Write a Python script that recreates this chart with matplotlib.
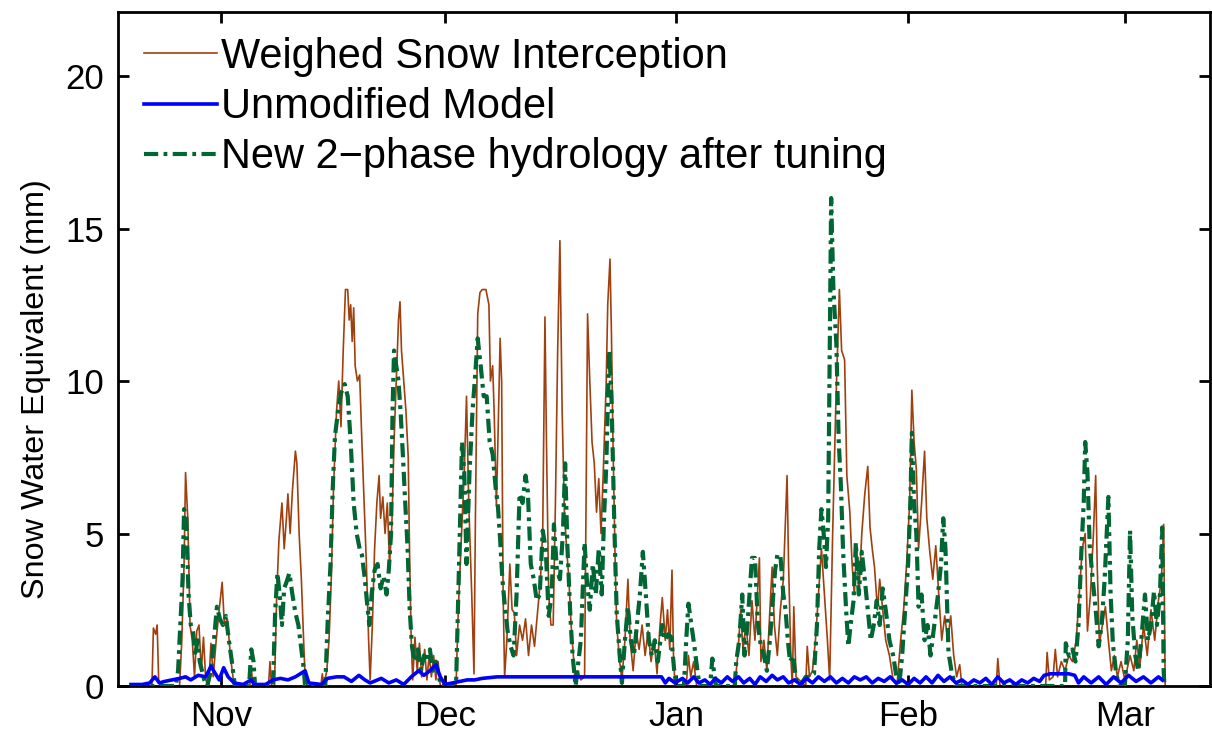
import matplotlib
matplotlib.use("Agg")
import matplotlib.pyplot as plt

# ---- data (x = days since 1 Oct) ----
month_ticks = [31, 61, 92, 123, 152]
month_labels = ["Nov", "Dec", "Jan", "Feb", "Mar"]
y_ticks = [0, 5, 10, 15, 20]

weighed_days = [21.8, 22.0, 22.3, 22.5, 22.7, 23.0,
    25.5, 25.8, 26.1, 26.3, 26.6, 26.9, 27.2, 27.5, 27.8, 28.1, 28.4, 28.7, 29.0, 29.4, 29.7, 30.0, 30.4, 30.8, 31.2, 31.5, 31.9, 32.3, 32.7, 33.0,
    34.9, 35.1, 35.3,
    37.4, 37.6, 37.8, 38.2, 38.5, 38.8, 39.2, 39.5, 39.8, 40.0, 40.3, 40.6, 41.0, 41.2, 41.5, 41.8, 42.1, 42.3, 42.6,
    44.4, 44.6, 44.8, 45.2, 45.5, 45.8, 46.1, 46.5, 46.8, 47.1, 47.4, 47.7, 48.0, 48.2, 48.4, 48.6, 48.8, 49.0, 49.3, 49.6, 49.9, 50.2, 50.5, 50.8, 51.0,
    51.3, 51.6, 51.9, 52.2, 52.4, 52.7, 53.0, 53.3, 53.6, 53.9, 54.2, 54.5, 54.8, 55.0, 55.2, 55.5, 55.8, 56.1, 56.3, 56.5, 56.7,
    57.0, 57.3, 57.6, 57.9, 58.3, 58.6, 58.9, 59.2, 59.5, 59.8, 60.1, 60.4,
    62.5, 62.8, 63.2, 63.6, 63.9, 64.2, 64.6, 64.9, 65.1, 65.4, 65.7, 66.0, 66.5, 66.9, 67.1, 67.4, 67.6, 67.9, 68.1, 68.4, 68.6, 68.8, 69.0,
    69.3, 69.7, 70.0, 70.3, 70.6, 71.0, 71.4, 71.8, 72.2, 72.6, 73.0, 73.4, 73.8, 74.1, 74.4, 74.6, 74.9, 75.2, 75.5, 75.8, 76.1, 76.4, 76.7,
    77.0, 77.3, 77.6, 77.9, 78.2, 78.4, 78.8, 79.2, 79.7, 79.9, 80.1, 80.4, 80.7, 81.0, 81.3, 81.6, 81.9, 82.2, 82.4, 82.6, 82.8, 83.1, 83.3,
    83.5, 83.8, 84.0, 84.4, 84.7, 85.1, 85.5, 85.8, 86.2, 86.6, 87.0, 87.4, 87.8, 88.2, 88.6, 89.0, 89.4, 89.8, 90.1, 90.5, 90.8, 91.1, 91.4,
    91.6, 91.8,
    93.3, 93.6, 93.9, 94.3, 94.7,
    99.8, 100.2, 100.6, 100.9, 101.3, 101.7, 102.1, 102.5, 103.1, 103.3, 103.7, 104.1, 104.5, 104.8, 105.1, 105.5, 105.9, 106.3, 106.6,
    106.8, 107.0, 107.3, 107.5, 107.7, 108.0,
    109.3, 109.5, 109.8, 110.2, 110.6, 111.0, 111.4, 111.8, 112.2, 112.5, 112.9, 113.3, 113.8, 114.1, 114.5, 114.8, 115.2, 115.5, 115.8,
    116.1, 116.4, 116.8, 117.2, 117.6, 117.9, 118.2, 118.5, 118.9, 119.2, 119.6, 120.0, 120.5, 121.0, 121.5, 122.0, 122.4, 122.8, 123.2,
    123.5, 123.8, 124.1, 124.4, 124.8, 125.2, 125.5, 125.9, 126.3, 126.7, 127.1, 127.5, 127.9, 128.3, 128.7, 129.1, 129.5, 129.9, 130.2,
    134.8, 135.0, 135.3,
    141.4, 141.6, 141.9, 142.4, 142.7, 143.0, 143.5, 144.0, 144.5, 145.0, 145.5, 145.9, 146.3, 146.7, 147.0, 147.4, 147.8, 148.1, 148.3,
    148.6, 149.0, 149.4, 149.8, 150.2, 150.6, 151.0, 151.5, 152.0, 152.7, 153.2, 153.6, 154.0, 154.5, 155.0, 155.5, 156.0, 156.5, 156.9,
    157.2, 157.4]
weighed_swe = [0, 1.9, 1.7, 2.0, 0.2, 0,
    0, 1.5, 4.0, 7.0, 5.5, 2.0, 1.5, 0.3, 1.8, 2.0, 0.5, 1.6, 0.2, 0, 1.4, 0.3, 1.5, 2.5, 3.4, 2.0, 2.2, 1.0, 0.2, 0,
    0, 0.6, 0,
    0, 0.8, 0, 0, 3.0, 4.8, 6.0, 4.5, 5.5, 6.3, 5.0, 6.4, 7.7, 7.3, 5.0, 3.5, 1.5, 0.3, 0,
    0, 0.4, 0, 0.5, 1.5, 3.5, 6.5, 9.0, 10.0, 8.5, 11.0, 13.0, 13.0, 12.0, 12.5, 11.3, 12.4, 10.5, 10.0, 10.2, 8.0, 6.0, 4.0, 1.5, 0.2,
    2.0, 4.5, 6.0, 6.9, 5.5, 6.2, 5.0, 6.0, 4.0, 5.2, 8.0, 10.0, 12.0, 12.6, 11.0, 10.0, 9.0, 7.5, 4.0, 1.5, 0.2,
    1.6, 0.5, 1.4, 0.3, 1.2, 0.2, 1.0, 0.3, 1.0, 0.2, 0.8, 0,
    0, 2.5, 4.8, 7.0, 9.5, 6.0, 3.0, 0.4, 5.7, 12.2, 12.9, 13.0, 13.0, 12.5, 10.0, 10.5, 9.0, 5.9, 8.0, 11.4, 10.0, 3.0, 0.3,
    1.5, 4.0, 2.5, 2.4, 1.0, 2.0, 1.5, 2.2, 1.0, 2.0, 1.3, 2.4, 3.5, 5.1, 12.1, 8.0, 3.0, 2.0, 2.0, 6.0, 11.0, 14.6, 9.0,
    5.7, 4.5, 3.5, 2.0, 1.0, 0.2, 0.5, 0.2, 0.3, 6.0, 12.2, 10.0, 8.0, 7.3, 5.7, 6.8, 5.0, 7.0, 8.5, 10.0, 12.5, 14.0, 11.5,
    8.0, 4.0, 2.0, 0.8, 0.2, 1.5, 3.5, 1.5, 0.5, 1.8, 1.2, 2.0, 1.0, 1.8, 0.8, 1.5, 0.4, 2.0, 2.9, 1.5, 2.5, 1.2, 3.8,
    1.0, 0,
    0, 1.0, 0.3, 0.8, 0,
    0, 1.0, 2.5, 1.2, 2.0, 1.0, 2.8, 1.5, 4.2, 0.8, 1.5, 0.5, 2.5, 3.9, 2.0, 1.0, 2.5, 3.5, 5.5,
    6.9, 4.0, 1.0, 0, 2.6, 0.3,
    0, 1.3, 0.3, 0.5, 1.5, 3.0, 4.5, 3.0, 1.5, 0.2, 5.0, 9.0, 13.0, 11.0, 10.7, 6.9, 5.7, 4.0, 3.0,
    4.6, 3.0, 5.0, 6.3, 7.2, 5.2, 4.5, 3.9, 2.5, 3.5, 2.5, 1.5, 1.0, 0.2, 0, 1.5, 2.5, 4.0, 6.0,
    9.7, 8.0, 7.1, 4.5, 6.0, 7.7, 5.5, 4.4, 3.5, 4.6, 3.0, 1.5, 2.3, 1.5, 2.3, 1.0, 0.3, 0.7, 0,
    0, 0.9, 0,
    0, 1.1, 0.2, 0.3, 1.2, 0.3, 0.8, 0.5, 1.0, 0.8, 1.5, 3.0, 4.5, 5.0, 1.8, 3.0, 5.0, 6.9, 4.0,
    1.4, 2.0, 2.6, 1.5, 0.5, 1.0, 0.3, 0.8, 0.2, 1.0, 0.5, 1.5, 0.6, 2.0, 1.0, 2.5, 1.5, 2.8, 3.5,
    5.3, 0]

unmod_days = [19.0, 20.5, 21.5, 22.2, 22.8, 23.5, 24.5, 25.5, 26.3, 27.0, 28.0, 29.0, 29.7, 30.3, 30.8, 31.4, 32.0, 32.8,
    34.0, 35.1, 35.5, 37.0, 38.0, 39.0, 40.0, 41.0, 42.3, 42.8, 44.5, 45.3, 46.5, 47.5, 48.5, 49.5, 50.3, 51.0,
    52.5, 53.5, 54.5, 55.5, 56.5, 57.5, 58.2, 59.0, 59.8, 60.4, 61.0, 62.0, 63.0, 64.0, 65.0, 66.0, 68.0, 70.0,
    72.0, 75.0, 78.0, 81.0, 84.0, 86.0, 88.0, 90.0, 90.5, 91.0, 91.8,
    92.8, 93.5, 94.3, 95.0, 95.8, 96.5, 97.2, 98.0, 98.8, 99.5, 100.3, 101.0, 101.8, 102.5, 103.2, 104.0, 104.8,
    105.5, 106.3, 107.0, 107.8, 108.6, 109.4, 110.2, 111.0, 111.8, 112.6, 113.4, 114.2, 115.0, 115.8, 116.6,
    117.4, 118.2, 119.0, 119.8, 120.6, 121.4, 122.2, 123.0, 123.8, 124.6, 125.4, 126.2, 127.0, 127.8, 128.6,
    129.4, 130.2, 131.0, 131.8, 132.6, 133.4, 134.2, 135.0, 135.8, 136.6, 137.4, 138.2, 139.0, 139.8, 140.6,
    141.2, 142.0, 143.5, 144.5, 145.3, 145.8, 146.5, 147.5, 148.5, 149.5, 150.5, 151.5, 152.5, 153.5, 154.5,
    155.5, 156.5, 157.0]
unmod_swe = [0.05, 0.05, 0.1, 0.3, 0.1, 0.15, 0.2, 0.25, 0.3, 0.2, 0.35, 0.3, 0.65, 0.4, 0.2, 0.6, 0.3, 0.1,
    0.05, 0.2, 0.05, 0.05, 0.2, 0.25, 0.2, 0.3, 0.5, 0.1, 0.05, 0.25, 0.3, 0.3, 0.15, 0.35, 0.2, 0.1,
    0.25, 0.1, 0.2, 0.05, 0.3, 0.5, 0.35, 0.5, 0.7, 0.3, 0.05, 0.1, 0.15, 0.2, 0.2, 0.25, 0.3, 0.3,
    0.3, 0.3, 0.3, 0.3, 0.3, 0.3, 0.3, 0.3, 0.1, 0.25, 0.1,
    0.25, 0.1, 0.3, 0.1, 0.2, 0.05, 0.25, 0.1, 0.3, 0.15, 0.3, 0.1, 0.25, 0.05, 0.3, 0.15, 0.35,
    0.2, 0.3, 0.1, 0.2, 0.05, 0.25, 0.1, 0.3, 0.15, 0.3, 0.1, 0.25, 0.1, 0.3, 0.2,
    0.3, 0.1, 0.25, 0.15, 0.3, 0.1, 0.2, 0.05, 0.25, 0.1, 0.3, 0.1, 0.35, 0.15, 0.3,
    0.1, 0.2, 0.05, 0.2, 0.1, 0.25, 0.05, 0.3, 0.1, 0.2, 0.05, 0.2, 0.1, 0.25, 0.15,
    0.35, 0.4, 0.4, 0.4, 0.35, 0.1, 0.3, 0.1, 0.3, 0.05, 0.3, 0.1, 0.35, 0.15, 0.3,
    0.1, 0.3, 0.2]

new_days = [19.0, 25.0, 25.3, 25.6, 25.9, 26.1, 26.4, 26.7, 27.0, 27.3, 27.6, 27.9, 28.2, 28.5, 28.8, 29.2, 29.7, 30.1, 30.5,
    30.9, 31.3, 31.7, 32.1, 32.5, 32.9,
    34.8, 35.1, 35.4, 35.6,
    38.0, 38.3, 38.6, 38.9, 39.2, 39.5, 39.8, 40.2, 40.6, 41.0, 41.4, 41.8, 42.1, 42.3,
    45.0, 45.3, 45.7, 46.0, 46.3, 46.7, 47.1, 47.6, 48.0, 48.4, 48.8, 49.2, 49.6, 49.9, 50.3, 50.6, 50.9, 51.2, 51.6, 52.0,
    52.4, 52.8, 53.2, 53.5, 53.8, 54.0, 54.2, 54.5, 54.8, 55.1, 55.4, 55.7, 56.0, 56.3, 56.6, 57.0, 57.4, 57.8, 58.2, 58.6,
    59.0, 59.4, 59.8, 60.2, 60.5,
    62.5, 62.8, 63.1, 63.3, 63.6, 63.9, 64.3, 64.7, 65.0, 65.4, 65.8, 66.2, 66.6, 67.0, 67.4, 67.8, 68.1, 68.4, 68.7, 69.0,
    69.4, 69.8, 70.2, 70.6, 71.0, 71.4, 71.8, 72.1, 72.5, 72.9, 73.3, 73.7, 74.1, 74.5, 74.9, 75.3, 75.6, 76.0, 76.4, 76.8,
    77.1, 77.4, 77.8, 78.1, 78.5, 79.2, 79.7, 80.0, 80.4, 80.8, 81.2, 81.6, 82.0, 82.3, 82.6, 83.0, 83.3, 83.7, 84.0, 84.4,
    84.7, 85.1, 85.5, 85.9, 86.3, 86.7, 87.1, 87.5, 87.9, 88.3, 88.7, 89.1, 89.5, 90.1, 90.5, 90.9, 91.3, 91.7, 92.0,
    93.0, 93.3, 93.6, 94.0, 94.4, 94.8, 95.1,
    96.5, 96.8, 97.1, 97.3,
    99.8, 100.0, 100.4, 100.8, 101.1, 101.5, 101.9, 102.1, 102.5, 102.9, 103.3, 103.7, 104.1, 104.5, 104.8, 105.2, 105.5,
    105.9, 106.3, 106.6, 106.9, 107.2, 107.6, 108.0, 108.5, 109.3, 109.8, 110.4, 110.8, 111.1, 111.4, 111.7, 112.0, 112.3,
    112.7, 113.0, 113.4, 113.7, 114.0, 114.3, 114.7, 115.0, 115.3, 115.7, 116.0, 116.4, 116.8, 117.2, 117.6, 118.0, 118.4,
    118.8, 119.2, 119.6, 120.0, 120.5, 121.0, 121.5, 121.8, 122.2, 122.6, 123.0, 123.3, 123.5, 123.8, 124.1, 124.4, 124.8,
    125.2, 125.6, 126.0, 126.5, 127.0, 127.4, 127.7, 128.0, 128.4, 128.8, 129.3,
    144.0, 144.1, 144.5, 145.0, 145.4, 145.8, 146.2, 146.5, 146.7, 147.0, 147.3, 147.7, 148.1, 148.5, 148.9, 149.3, 149.8,
    150.1, 150.4, 150.8, 151.2, 152.0, 152.4, 152.7, 153.0, 153.4, 153.8, 154.2, 154.7, 155.1, 155.5, 155.9, 156.3, 156.7,
    157.0, 157.2, 157.3]
new_swe = [0, 0, 0.5, 2.0, 3.5, 5.8, 5.5, 3.0, 2.0, 1.8, 1.0, 1.5, 0.8, 0.5, 0.2, 0, 0.5, 1.5, 2.6,
    2.2, 2.0, 2.3, 1.5, 0.8, 0,
    0, 1.2, 0.8, 0,
    0, 2.5, 3.7, 3.0, 2.0, 3.2, 3.4, 3.7, 3.0, 2.4, 2.0, 1.2, 0.6, 0,
    0, 2.0, 4.0, 6.5, 8.2, 9.0, 9.6, 9.9, 9.5, 8.0, 6.0, 5.0, 4.5, 4.3, 3.5, 2.7, 2.0, 3.0, 3.8, 4.0,
    3.2, 3.6, 3.0, 3.8, 5.0, 9.0, 11.0, 10.5, 10.0, 8.9, 7.5, 6.0, 4.6, 2.5, 1.3, 0.8, 1.2, 0.5, 1.0, 0.8,
    1.2, 0.5, 0.8, 0.3, 0,
    0, 3.0, 6.0, 8.0, 7.0, 4.0, 7.0, 9.0, 10.0, 11.4, 10.5, 9.5, 9.5, 8.0, 7.6, 6.5, 5.9, 4.8, 3.5, 2.7,
    1.8, 1.3, 1.0, 3.0, 6.3, 6.0, 6.9, 6.4, 4.0, 3.5, 2.8, 3.0, 5.1, 4.5, 2.3, 3.0, 5.3, 3.8, 3.5, 5.0,
    7.3, 4.6, 2.3, 1.0, 0, 1.5, 4.7, 3.5, 2.5, 4.0, 3.0, 4.5, 3.0, 5.5, 7.2, 11.0, 9.5, 5.1, 2.4, 1.0,
    0.1, 1.5, 2.6, 1.5, 1.0, 2.0, 3.0, 4.4, 3.0, 1.5, 1.0, 1.5, 0.8, 2.0, 1.5, 1.7, 1.6, 0.5, 0,
    0, 1.5, 2.7, 2.0, 1.3, 0.5, 0,
    0, 0.9, 0.3, 0,
    0, 0.8, 1.5, 3.0, 1.0, 2.0, 3.5, 4.2, 4.2, 2.0, 1.3, 1.0, 0.5, 1.5, 2.5, 3.8, 4.3,
    4.3, 3.0, 2.5, 1.5, 0.8, 1.0, 0.2, 0, 0.3, 0.3, 0.4, 2.0, 4.5, 5.8, 5.0, 3.9, 5.5,
    16.0, 13.0, 11.2, 8.1, 6.6, 4.4, 2.5, 1.3, 2.0, 2.8, 4.7, 3.0, 4.4, 3.5, 2.5, 1.5, 2.0,
    2.8, 2.0, 3.2, 2.5, 1.5, 1.0, 0.2, 0, 1.0, 2.5, 4.0, 6.0, 8.3, 6.0, 5.0, 2.6, 3.0,
    1.5, 2.0, 1.0, 2.0, 3.0, 4.0, 5.5, 4.5, 1.1, 0.5, 0,
    0, 1.4, 1.0, 1.2, 0.8, 2.0, 4.5, 6.0, 8.0, 7.0, 4.6, 3.5, 2.5, 1.3, 2.0, 3.5, 6.2,
    3.0, 1.4, 0.5, 0, 0, 1.5, 5.1, 2.3, 1.0, 0.5, 1.5, 3.0, 1.5, 2.0, 3.1, 2.0, 3.0,
    5.2, 0.5, 0]

labels = ["Weighed Snow Interception", "Unmodified Model",
          "New 2\u2212phase hydrology after tuning"]

plt.rcParams['font.family'] = ['Liberation Sans', 'DejaVu Sans']

fig = plt.figure(figsize=(12.12, 7.37), dpi=100)
W, H = 1212, 737
ax = fig.add_axes([118 / W, (H - 686) / H, (1210 - 118) / W, (686 - 12) / H])

brown = '#A0400F'
green = '#006633'
blue = '#0000FF'

ax.plot(weighed_days, weighed_swe, color=brown, lw=1.2, zorder=2, label=labels[0])
ax.plot(unmod_days, unmod_swe, color=blue, lw=2.6, zorder=4, label=labels[1])
ax.plot(new_days, new_swe, color=green, lw=3.0, zorder=3, label=labels[2],
        linestyle=(0, (3.4, 1.3, 0.9, 1.3)))

ax.set_xlim(17.26, 163.4)
ax.set_ylim(0, 22.1)
ax.set_xticks(month_ticks)
ax.set_xticklabels(month_labels)
ax.set_yticks(y_ticks)
ax.tick_params(direction='in', length=8, width=2, labelsize=25, top=True, right=True, pad=10)
for s in ax.spines.values():
    s.set_linewidth(2)
ax.set_ylabel("Snow Water Equivalent (mm)", fontsize=23.3)
ax.yaxis.set_label_coords(-0.061, 0.44)

leg = ax.legend(loc='upper left', bbox_to_anchor=(0.024, 0.963), frameon=False,
                fontsize=29.9, handlelength=1.76, handletextpad=0.1, labelspacing=0.245,
                borderpad=0, borderaxespad=0)

fig.savefig('out.png', dpi=100)
